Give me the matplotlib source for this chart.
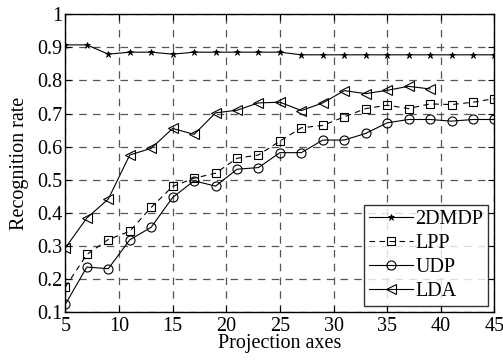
import numpy as np
import matplotlib
matplotlib.use("Agg")
import matplotlib.pyplot as plt

plt.rcParams['font.family'] = ['Liberation Serif', 'DejaVu Serif']
plt.rcParams['mathtext.fontset'] = 'stix'

# projection axes (odd numbers from 5 to 45)
axes_x = list(range(5, 46, 2))

mdp2d = [0.907, 0.907, 0.879, 0.885, 0.885, 0.879, 0.885, 0.885, 0.885, 0.885, 0.885,
         0.877, 0.877, 0.877, 0.877, 0.877, 0.877, 0.877, 0.877, 0.877, 0.877]
lpp = [0.177, 0.275, 0.320, 0.345, 0.417, 0.480, 0.505, 0.520, 0.565, 0.575, 0.617,
       0.657, 0.664, 0.690, 0.715, 0.725, 0.715, 0.729, 0.727, 0.734, 0.745]
udp = [0.125, 0.237, 0.232, 0.319, 0.357, 0.447, 0.497, 0.481, 0.532, 0.537, 0.582,
       0.582, 0.620, 0.620, 0.640, 0.672, 0.682, 0.682, 0.677, 0.682, 0.682]
# LDA stops at 39 axes
lda_x = list(range(5, 40, 2))
lda = [0.295, 0.385, 0.442, 0.575, 0.595, 0.655, 0.637, 0.702, 0.710, 0.732, 0.734,
       0.709, 0.732, 0.769, 0.760, 0.770, 0.782, 0.774]

fig = plt.figure(figsize=(5.03, 3.6), dpi=100)
ax = fig.add_axes([0.130, 0.132, 0.853, 0.829])

ax.plot(axes_x, mdp2d, '-', color='black', lw=0.8, marker='*', ms=5, mew=0.5, label='2DMDP')
ax.plot(axes_x, lpp, '--', color='black', lw=0.8, marker='s', ms=6,
        mfc='none', mew=0.8, dashes=(5, 4), label='LPP')
ax.plot(axes_x, udp, '-', color='black', lw=0.8, marker='o', ms=6.5,
        mfc='none', mew=0.8, label='UDP')
ax.plot(lda_x, lda, '-', color='black', lw=0.8, marker='<', ms=7,
        mfc='none', mew=0.8, label='LDA')

ax.set_xlim(5, 45)
ax.set_ylim(0.1, 1)
ax.set_xticks(range(5, 46, 5))
ax.set_yticks(np.arange(0.1, 1.01, 0.1))
ax.set_yticklabels(['0.1', '0.2', '0.3', '0.4', '0.5', '0.6', '0.7', '0.8', '0.9', '1'])
ax.tick_params(direction='in', length=4, width=0.8, labelsize=14.5,
               top=True, right=True)
ax.tick_params(axis='x', pad=3)
ax.tick_params(axis='y', pad=2)
ax.grid(True, color='#555555', linestyle=(0, (6, 5)), lw=0.9)
for s in ax.spines.values():
    s.set_linewidth(1.0)

ax.set_xlabel('Projection axes', fontsize=14.5, labelpad=-1)
ax.set_ylabel('Recognition rate', fontsize=14.5, labelpad=6)

leg = ax.legend(loc='lower right', fontsize=14.5, frameon=True, fancybox=False,
                edgecolor='black', handlelength=2.2, handletextpad=0.1,
                labelspacing=0.25, borderpad=0.25, borderaxespad=0.3)
leg.get_frame().set_linewidth(1.0)

fig.savefig('out.png', dpi=100)
